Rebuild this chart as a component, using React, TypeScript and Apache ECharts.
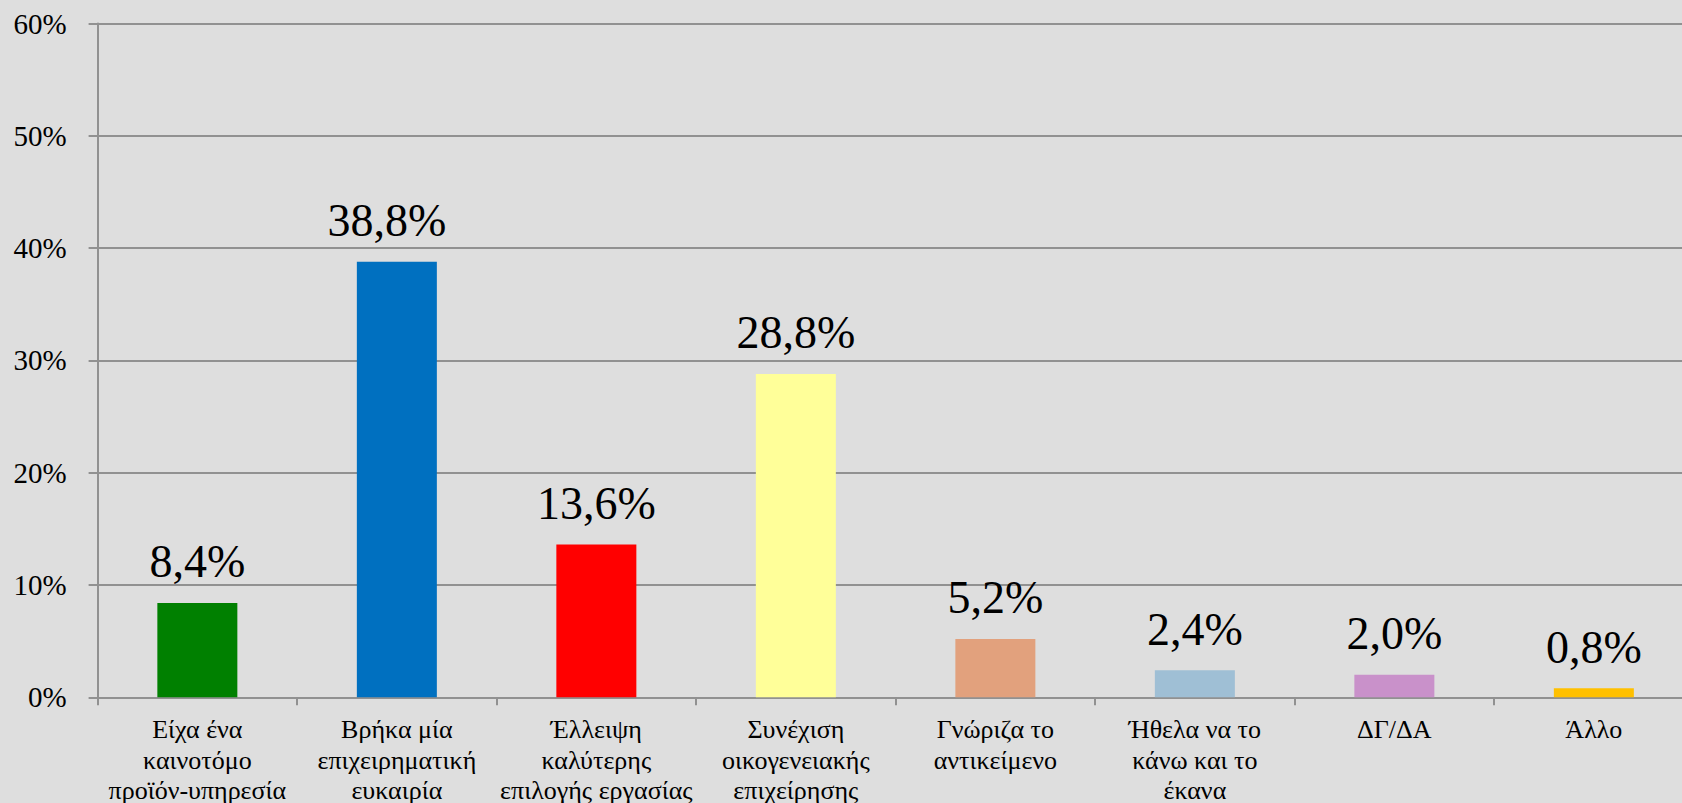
import React, { useEffect, useRef } from "react";
import * as echarts from "echarts";

const categories = [
  "Είχα ένα\nκαινοτόμο\nπροϊόν-υπηρεσία",
  "Βρήκα μία\nεπιχειρηματική\nευκαιρία",
  "Έλλειψη\nκαλύτερης\nεπιλογής εργασίας",
  "Συνέχιση\nοικογενειακής\nεπιχείρησης",
  "Γνώριζα το\nαντικείμενο",
  "Ήθελα να το\nκάνω και το\nέκανα",
  "ΔΓ/ΔΑ",
  "Άλλο",
];
const values = [8.4, 38.8, 13.6, 28.8, 5.2, 2.4, 2.0, 0.8];
const colors = ["#008000", "#0070C0", "#FF0000", "#FFFF99", "#E2A17D", "#9FBFD5", "#C991CA", "#FFC000"];
const yTicks = [0, 10, 20, 30, 40, 50, 60];

export default function App() {
  const ref = useRef<HTMLDivElement>(null);
  useEffect(() => {
    if (!ref.current) return;
    const chart = echarts.init(ref.current, null, { renderer: "svg" });
    const font = "Liberation Serif";
    chart.setOption({
      animation: false,
      backgroundColor: "#DEDEDE",
      textStyle: { fontFamily: font },
      grid: {
        left: 97.6,
        right: -11.6,
        top: 23.6,
        bottom: 105.7,
        containLabel: false,
        outerBoundsMode: "none",
      },
      xAxis: {
        type: "category",
        data: categories,
        axisLine: { show: true, lineStyle: { color: "#919191", width: 2 } },
        axisTick: { show: true, length: 8, lineStyle: { color: "#919191", width: 2 } },
        axisLabel: {
          interval: 0,
          margin: 17,
          color: "#000",
          fontFamily: font,
          fontSize: 26,
          lineHeight: 30.5,
          align: "center",
        },
      },
      yAxis: {
        type: "value",
        min: yTicks[0],
        max: yTicks[yTicks.length - 1],
        interval: 10,
        axisLine: { show: true, lineStyle: { color: "#919191", width: 2 } },
        axisTick: { show: true, length: 9, lineStyle: { color: "#919191", width: 2 } },
        splitLine: { show: true, lineStyle: { color: "#919191", width: 2 } },
        axisLabel: {
          margin: 31,
          color: "#000",
          fontFamily: font,
          fontSize: 29,
          formatter: (v: number) => `${v}%`,
        },
      },
      series: [
        {
          type: "bar",
          barWidth: 80,
          data: values.map((v, i) => ({
            value: v,
            itemStyle: { color: colors[i] },
            label: i === 1 ? { offset: [-10, 0] } : undefined,
          })),
          label: {
            show: true,
            position: "top",
            distance: 18,
            color: "#000",
            fontFamily: font,
            fontSize: 46,
            formatter: (p: any) => `${Number(p.value).toFixed(1).replace(".", ",")}%`,
          },
        },
      ],
    });
    return () => chart.dispose();
  }, []);
  return (
    <div
      ref={ref}
      style={{ position: "fixed", left: 0, top: 0, width: 1682, height: 803 }}
    />
  );
}
